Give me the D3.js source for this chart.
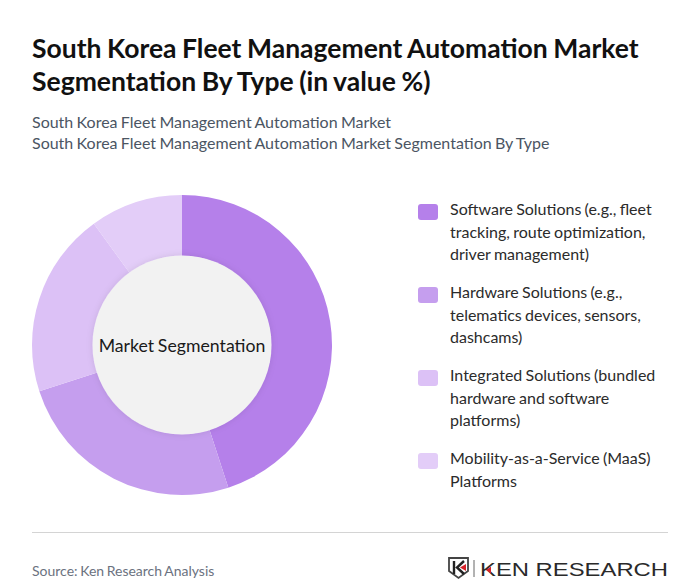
<!DOCTYPE html>
<html><head><meta charset="utf-8">
<script src="https://cdn.jsdelivr.net/npm/d3@7/dist/d3.min.js"></script>
<style>html,body{margin:0;padding:0;background:#fff}svg{display:block;font-family:Lato,sans-serif}</style>
</head><body><svg id="c" width="700" height="580"></svg>
<script>
const titleLines = ["South Korea Fleet Management Automation Market","Segmentation By Type (in value %)"];
const subtitleLines = ["South Korea Fleet Management Automation Market","South Korea Fleet Management Automation Market Segmentation By Type"];
const categories = ["Software Solutions","Hardware Solutions","Integrated Solutions","Mobility-as-a-Service"];
const values = [45,25,20,10];
const colors = ["#b580ea","#c59eee","#dcc1f6","#e3cdf8"];
const legendLines = [
 ["Software Solutions (e.g., fleet","tracking, route optimization,","driver management)"],
 ["Hardware Solutions (e.g.,","telematics devices, sensors,","dashcams)"],
 ["Integrated Solutions (bundled","hardware and software","platforms)"],
 ["Mobility-as-a-Service (MaaS)","Platforms"]];
const centerLabel = "Market Segmentation";
const sourceText = "Source: Ken Research Analysis";

const svg = d3.select("#c");
const defs = svg.append("defs");
const f = defs.append("filter").attr("id","sh").attr("x","-20%").attr("y","-20%").attr("width","140%").attr("height","140%");
f.append("feDropShadow").attr("dx",0).attr("dy",0).attr("stdDeviation",3).attr("flood-color","#000").attr("flood-opacity",0.1);

svg.append("g").selectAll("text").data(titleLines).join("text")
 .attr("x",32).attr("y",(d,i)=>58+i*33).attr("font-size",26.5).attr("word-spacing",-0.9).attr("font-weight",700).attr("fill","#111").text(d=>d);
svg.append("g").selectAll("text").data(subtitleLines).join("text")
 .attr("x",32).attr("y",(d,i)=>128+i*21).attr("font-size",16).attr("word-spacing",-0.8).attr("fill","#4b5563").text(d=>d);

const pie = d3.pie().sort(null).value(d=>d)(values);
const arc = d3.arc().innerRadius(89).outerRadius(150);
const g = svg.append("g").attr("transform","translate(182,345)");
g.selectAll("path").data(pie).join("path").attr("d",arc).attr("fill",(d,i)=>colors[i]);
g.append("circle").attr("r",89.5).attr("fill","#f2f2f2").attr("filter","url(#sh)");
g.append("text").attr("text-anchor","middle").attr("y",6.5).attr("font-size",17.7).attr("word-spacing",-0.8).attr("fill","#1a1a1a").text(centerLabel);

const tops = [202,285,368,451];
const lg = svg.append("g").selectAll("g").data(legendLines).join("g").attr("transform",(d,i)=>`translate(418,${tops[i]})`);
lg.append("rect").attr("y",2).attr("width",20).attr("height",16).attr("rx",3).attr("fill",(d,i)=>colors[i]);
lg.selectAll("text").data(d=>d).join("text").attr("x",32).attr("y",(d,i)=>13+i*22.7)
 .attr("font-size",16).attr("word-spacing",-0.8).attr("fill","#2b2b2b").text(d=>d);

svg.append("line").attr("x1",32).attr("x2",668).attr("y1",532.5).attr("y2",532.5).attr("stroke","#d4d4d4");
svg.append("text").attr("x",32).attr("y",576).attr("font-size",14).attr("word-spacing",-1).attr("fill","#6b7280").text(sourceText);

const logo = svg.append("g").attr("transform","translate(449,558)");
logo.append("path").attr("d","M0 0H19V13L9.5 20L0 13Z").attr("fill","none").attr("stroke","#444").attr("stroke-width",1.8);
logo.append("path").attr("d","M5 3V16M15 3L8 9.5L15 16").attr("fill","none").attr("stroke","#222").attr("stroke-width",2.4);
logo.append("path").attr("d","M17 6L11 9.5L17 13Z").attr("fill","#d8232a");
logo.append("line").attr("x1",25).attr("x2",25).attr("y1",2).attr("y2",19).attr("stroke","#666");
svg.append("text").attr("x",480).attr("y",576).attr("font-family","Liberation Sans").attr("font-size",19)
 .attr("fill","#2a2a2a").attr("textLength",188).attr("lengthAdjust","spacingAndGlyphs").text("KEN RESEARCH");
svg.append("path").attr("d","M491 566.5L486 570L491 573.5Z").attr("fill","#d8232a");
</script></body></html>
